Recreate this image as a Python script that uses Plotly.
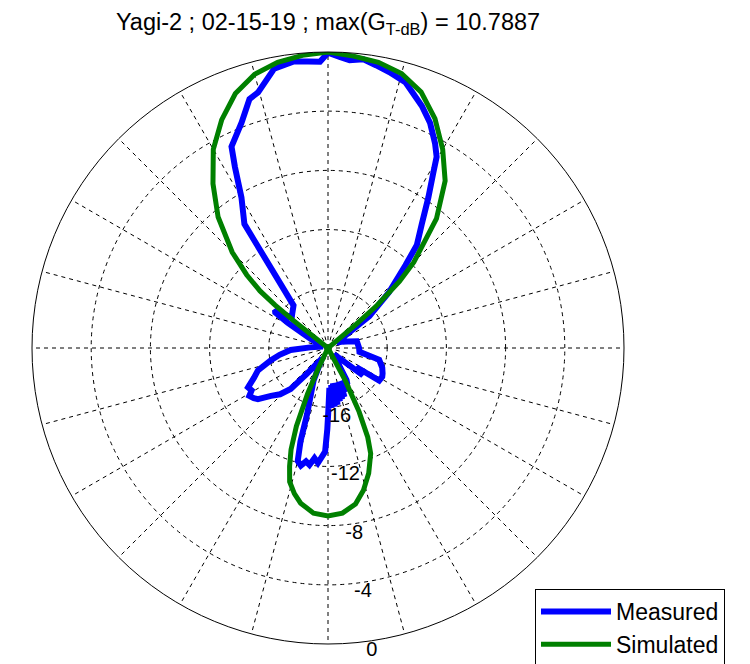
import plotly.graph_objects as go

# ---------------- data ----------------
title_text = "Yagi-2 ; 02-15-19 ; max(G<sub>T-dB</sub>) = 10.7887"
series_names = ["Measured", "Simulated"]

# angle in degrees, clockwise from the top of the plot
sim_theta = [0, 5, 10, 15, 20, 25, 30, 35, 40, 45, 47, 49, 50, 51, 90, 120, 151,
             152, 154, 156, 158, 162, 166, 170, 175, 180, 185, 190, 193, 196, 198,
             200, 202, 204, 205.5, 207, 240, 270, 308, 308.5, 309, 310, 312, 315,
             320, 325, 330, 335, 340, 345, 350, 355, 360]
sim_gain = [0.0, -0.2, -0.4, -0.8, -1.6, -2.9, -4.5, -6.2, -8.6, -11.8, -13.4, -15.6, -17.5, -20, -20, -20, -20,
            -17.5, -15.2, -13.4, -12.3, -11.1, -10.1, -9.3, -8.8, -8.65, -8.8, -9.35, -9.9, -10.6, -11.6,
            -12.7, -14.3, -16.6, -18.5, -20, -20, -20, -20, -17.0, -15.4, -14.0, -12.6, -10.85,
            -8.45, -6.45, -4.5, -3.0, -1.7, -0.85, -0.4, -0.15, 0.0]

meas_theta = [0, 2.3, 4.3, 7, 9.6, 12.5, 16.2, 21.2, 24.4, 27.6, 29.6, 31.1, 33.7, 37.2, 40.8,
              43.1, 47.6, 52.4, 58, 65, 72, 77, 90, 97, 103, 110, 115, 118, 122.5, 124, 128,
              131, 136, 145, 150, 152, 154, 155.5, 157, 158.5, 160, 161.5, 163, 164.5, 166,
              167.5, 169, 170.5, 172, 173.5, 175, 176.5, 178, 179.7, 180.5, 181.6, 185, 187,
              189, 191, 193, 195, 196.4, 197.5, 203.9, 210, 215, 219.2, 222.3, 226, 230,
              233.9, 236, 238.7, 241, 243.8, 248, 252.3, 257.9, 262, 266.9, 272, 280, 290,
              298, 302, 304, 305.5, 307, 310, 315, 321, 326, 330.1, 332.8, 334.4, 339, 342.5,
              344.7, 349.1, 353.2, 356, 358.4, 360]
meas_gain = [-0.05, -0.31, -0.5, -0.35, -0.62, -0.9, -1.29, -2.46, -3.3, -4.39, -5.14, -6.25, -7.78, -9.53, -10.81,
             -12.34, -14.42, -16.47, -19.3, -19.0, -18.6, -18.0, -17.9, -17.86, -16.45, -16.1, -15.93, -15.85, -15.9, -17.7, -17.0,
             -18.8, -19.4, -19.0, -17.5, -17.2, -17.6, -17.0, -17.6, -16.8, -17.6, -16.5, -17.6, -16.4, -17.5,
             -16.3, -17.5, -16.1, -17.6, -16.0, -17.5, -15.95, -17.3, -15.74, -14.5, -12.99, -12.2, -12.5,
             -12.0, -12.2, -11.85, -12.1, -13.41, -15.29, -17.6, -19.2, -18.8, -17.76, -16.25, -15.5, -14.97,
             -14.14, -13.95, -13.78, -14.1, -13.98, -14.6, -15.03, -16.06, -16.7, -17.47, -18.8, -19.5, -19.5,
             -18.6, -16.8, -15.7, -15.6, -16.2, -16.8, -16.6, -16.3, -9.9, -8.27, -6.24, -4.91, -3.7, -2.36,
             -2.09, -0.78, -0.5, -0.6, -0.65, -0.05]

ring_values = [-20, -16, -12, -8, -4, 0]
ring_labels = ["", "-16", "-12", "-8", "-4", "0"]
r_min, r_max = -20, 0

# ---------------- layout constants ----------------
W, H = 750, 664
PAGE = 8                      # browser body margin (px) shifts the figure
cx, cy, R = 328 - PAGE, 348 - PAGE, 296
FONT = "Liberation Sans, Arial, sans-serif"
label_angle = 171.5
dash = "4px,4px"

fig = go.Figure()
fig.add_trace(go.Scatterpolar(
    r=meas_gain, theta=meas_theta, mode="lines", name=series_names[0],
    line=dict(color="#0000FF", width=6)))
fig.add_trace(go.Scatterpolar(
    r=sim_gain, theta=sim_theta, mode="lines", name=series_names[1],
    line=dict(color="#008000", width=5)))
shown = [(v, t) for v, t in zip(ring_values, ring_labels) if t]
fig.add_trace(go.Scatterpolar(
    r=[v for v, _ in shown],
    theta=[label_angle] * len(shown),
    text=[t for _, t in shown],
    mode="text", textposition="bottom center",
    textfont=dict(family=FONT, size=20, color="black"),
    showlegend=False, cliponaxis=False, hoverinfo="skip"))

fig.update_layout(
    width=W, height=H,
    margin=dict(l=0, r=0, t=0, b=0),
    paper_bgcolor="white",
    font=dict(family=FONT, size=20, color="black"),
    title=dict(text=title_text, x=(328 - PAGE) / W, xanchor="center",
               y=1 - 14 / H, yanchor="middle",
               font=dict(family=FONT, size=23.5, color="black")),
    polar=dict(
        domain=dict(x=[(cx - R) / W, (cx + R) / W], y=[(H - cy - R) / H, (H - cy + R) / H]),
        bgcolor="white",
        radialaxis=dict(range=[r_min, r_max], tickmode="array", tickvals=ring_values,
                        showticklabels=False, ticks="", showline=False,
                        gridcolor="black", gridwidth=1, griddash=dash),
        angularaxis=dict(rotation=90, direction="clockwise", tickmode="linear", tick0=0, dtick=15,
                         showticklabels=False, ticks="", showline=True, linecolor="black", linewidth=1,
                         gridcolor="black", gridwidth=1, griddash=dash),
    ),
    showlegend=True,
    legend=dict(x=(535 - PAGE) / W, y=1 - (589 - PAGE) / H, xanchor="left", yanchor="top",
                bordercolor="black", borderwidth=1, bgcolor="white",
                font=dict(family=FONT, size=23, color="black"), itemwidth=70),
)

fig.write_html("out.html")
